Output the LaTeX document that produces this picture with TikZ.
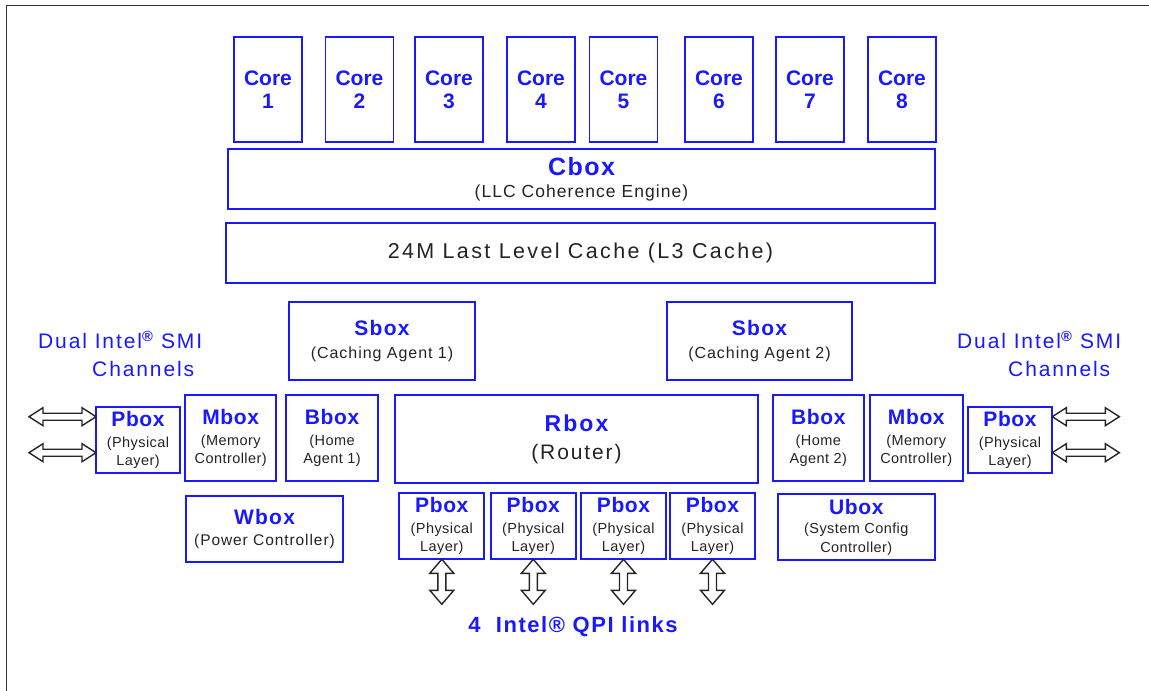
\documentclass[tikz,border=0pt]{standalone}
\usepackage{fontspec}
\setmainfont{Liberation Sans}
\newfontfamily\widefont{Liberation Sans}[LetterSpace=9]
\newfontfamily\llcfont{Liberation Sans}[LetterSpace=11]
\newfontfamily\midfont{Liberation Sans}[LetterSpace=6]
\newfontfamily\smallfont{Liberation Sans}[LetterSpace=3]
\newfontfamily\qpifont{Liberation Sans}[LetterSpace=7]
\definecolor{uncoreblue}{RGB}{25,25,255}
\definecolor{subgray}{RGB}{35,35,35}
% heading line of a box
\newcommand{\hd}[2][21]{{\color{uncoreblue}\bfseries\fontsize{#1}{#1}\selectfont #2}}
\tikzset{
  unit/.style={draw=uncoreblue, line width=1.8pt, align=center, inner sep=0pt, outer sep=0pt, text=subgray},
  coretext/.style={font=\bfseries\fontsize{21}{23}\selectfont, text=uncoreblue},
  smallsub/.style={font=\smallfont\fontsize{14.5}{18}\selectfont},
  midsub/.style={font=\midfont\fontsize{16}{19}\selectfont},
  wideline/.style={font=\widefont\fontsize{21}{28}\selectfont},
  linkarrow/.style={draw=black!85, line width=1.4pt, fill=white, line join=miter},
  frameline/.style={draw=black!80, line width=1.6pt},
  pics/dblarrow/.style args={#1/#2/#3}{code={
    \draw[linkarrow] (0,0) -- (14,#2) -- (14,#3) -- (#1-14,#3) -- (#1-14,#2) -- (#1,0)
      -- (#1-14,-#2) -- (#1-14,-#3) -- (14,-#3) -- (14,-#2) -- cycle;
  }}
}
\begin{document}
\begin{tikzpicture}[x=1pt,y=-1pt]
  \useasboundingbox (0,0) rectangle (1149,691);
  %% frame
  \draw[frameline] (6.5,691) -- (6.5,5.5) -- (1149,5.5);
  %% cores
  \foreach \n/\x in {1/268,2/359.5,3/449,4/541,5/623.5,6/719,7/810,8/902}
    \node[unit, coretext, minimum width=68, minimum height=105] (core\n) at (\x,89.5) {Core\\\n};
  %% Cbox and LLC
  \node[unit, font=\midfont\fontsize{17.5}{20}\selectfont, minimum width=707, minimum height=60] (cbox) at (581.5,179) {\hd[25]{Cbox}\\[2pt](LLC Coherence Engine)};
  \node[unit, font=\llcfont\fontsize{21.5}{24}\selectfont, minimum width=709, minimum height=60] (llc) at (580.5,253) {24M Last Level Cache (L3 Cache)};
  %% Sbox
  \node[unit, midsub, minimum width=186, minimum height=78] (sbox1) at (382,341) {\hd{Sbox}\\[4pt](Caching Agent 1)};
  \node[unit, midsub, minimum width=185, minimum height=78] (sbox2) at (759.5,341) {\hd{Sbox}\\[4pt](Caching Agent 2)};
  %% SMI channels
  \node[wideline, text=uncoreblue, align=left, anchor=west, inner sep=0pt] (smil) at (38,354) {Dual Intel\textsuperscript{\bfseries®} SMI\\\hspace*{54pt}Channels};
  \node[wideline, text=uncoreblue, align=left, anchor=west, inner sep=0pt] (smir) at (957,354) {Dual Intel\textsuperscript{\bfseries®} SMI\\\hspace*{51pt}Channels};
  %% left side
  \node[unit, smallsub, minimum width=84, minimum height=66] (pl) at (138,439.7) {\hd{Pbox}\\[3.5pt](Physical\\Layer)};
  \node[unit, smallsub, minimum width=91, minimum height=86] (ml) at (230.7,438) {\hd{Mbox}\\[3pt](Memory\\Controller)};
  \node[unit, smallsub, minimum width=92, minimum height=86] (bl) at (332,438) {\hd{Bbox}\\[3pt](Home\\Agent 1)};
  \node[unit, font=\midfont\fontsize{15.5}{19}\selectfont, minimum width=157, minimum height=66] (wbox) at (264.5,529) {\hd{Wbox}\\[2pt](Power Controller)};
  %% router
  \node[unit, wideline, minimum width=363, minimum height=88] (rbox) at (576.5,439) {\hd[23]{Rbox}\\(Router)};
  %% right side
  \node[unit, smallsub, minimum width=91, minimum height=86] (br) at (818.3,438) {\hd{Bbox}\\[3pt](Home\\Agent 2)};
  \node[unit, smallsub, minimum width=92.7, minimum height=86] (mr) at (916.3,438) {\hd{Mbox}\\[3pt](Memory\\Controller)};
  \node[unit, smallsub, minimum width=84.6, minimum height=66] (pr) at (1010,439.7) {\hd{Pbox}\\[3.5pt](Physical\\Layer)};
  \node[unit, font=\smallfont\fontsize{14.5}{19}\selectfont, minimum width=157, minimum height=66] (ubox) at (856.3,527) {\hd{Ubox}\\(System Config\\Controller)};
  %% QPI Pboxes
  \foreach \n/\x in {1/441.8,2/533.3,3/623.5,4/712.5}
    \node[unit, smallsub, minimum width=85, minimum height=66.6] (pq\n) at (\x,526) {\hd{Pbox}\\[3.5pt](Physical\\Layer)};
  %% link arrows
  \pic at ([xshift=-67pt,yshift=23pt]pl.west) {dblarrow=67/9/3.5};
  \pic at ([xshift=-67pt,yshift=-13pt]pl.west) {dblarrow=67/9/3.5};
  \pic at ([yshift=23pt]pr.east) {dblarrow=67/9/3.5};
  \pic at ([yshift=-13pt]pr.east) {dblarrow=67/9/3.5};
  \foreach \n in {1,...,4}
    \pic[rotate=-90] at (pq\n.south) {dblarrow=45/12/4};
  \node[font=\qpifont\bfseries\fontsize{22}{24}\selectfont, text=uncoreblue] (qpi) at (573,627) {4\ \ Intel® QPI links};
\end{tikzpicture}
\end{document}
